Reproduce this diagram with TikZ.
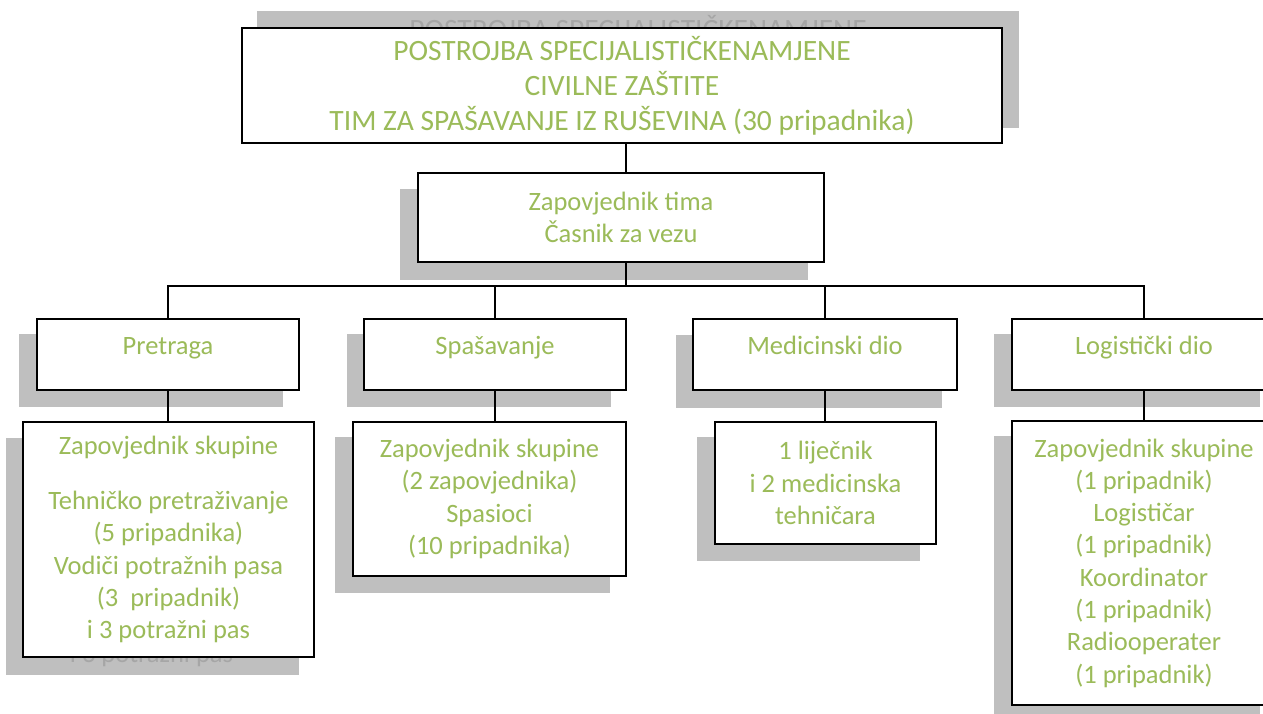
\documentclass[tikz,border=0pt]{standalone}
\usepackage{fontspec}
\setmainfont{Carlito}
\usepackage{tikz}
\usetikzlibrary{calc,positioning}
\pgfdeclarelayer{background}
\pgfsetlayers{background,main}
\definecolor{txtgreen}{HTML}{9BBB59}
\definecolor{shadowgray}{HTML}{BFBFBF}
\definecolor{ghostgray}{HTML}{A6A6A6}
\newcommand{\unitfont}{\fontsize{26.5}{32.3}\selectfont}
\newcommand{\headfont}{\fontsize{29.5}{35}\selectfont}
\newcommand{\boxshadow}[3]{\fill[shadowgray] ($(#1.south west)+(#2,#3)$) rectangle ($(#1.north east)+(#2,#3)$);}

\begin{document}
\begin{tikzpicture}[x=1pt,y=-1pt,
  unitbox/.style={draw=black,line width=1.6pt,fill=white,align=center,inner sep=0pt,text=txtgreen,font=\unitfont},
  deptbox/.style={unitbox,minimum height=71pt,text height=18pt,text depth=18pt},
  ghost/.style={anchor=base,inner sep=0pt,text=ghostgray},
  link/.style={draw=black,line width=1.4pt}]
\useasboundingbox (0,0) rectangle (1263,713);

% top levels
\node (top) at (622,85.5) [unitbox,font=\headfont,minimum width=760pt,minimum height=115pt]
  {POSTROJBA SPECIJALISTIČKENAMJENE\\CIVILNE ZAŠTITE\\TIM ZA SPAŠAVANJE IZ RUŠEVINA (30 pripadnika)};
\node (tim) at (621,217.5) [unitbox,minimum width=406pt,minimum height=89pt] {Zapovjednik tima\\Časnik za vezu};

% departments
\node (pre) at (168,354.5) [deptbox,minimum width=262pt] {Pretraga};
\node (spa) at (495,354.5) [deptbox,minimum width=262pt] {Spašavanje};
\node (med) at (825,354.5) [deptbox,minimum width=264pt] {Medicinski dio};
\node (log) at (1144,354.5) [deptbox,minimum width=264pt] {Logistički dio};

% members
\node (predet) at (168.5,539.5) [unitbox,minimum width=291pt,minimum height=235pt]
  {Zapovjednik skupine\\[22.7pt]Tehničko pretraživanje\\(5 pripadnika)\\Vodiči potražnih pasa\\(3~~pripadnik)\\i 3 potražni pas};
\node (spadet) at (489.5,499) [unitbox,minimum width=273pt,minimum height=154pt]
  {Zapovjednik skupine\\(2 zapovjednika)\\Spasioci\\(10 pripadnika)};
\node (meddet) at (825.5,483) [unitbox,minimum width=221pt,minimum height=122pt]
  {1 liječnik\\i 2 medicinska\\tehničara};
\node (logdet) at (1144,563) [unitbox,minimum width=264pt,minimum height=284pt]
  {Zapovjednik skupine\\(1 pripadnik)\\Logističar\\(1 pripadnik)\\Koordinator\\(1 pripadnik)\\Radiooperater\\(1 pripadnik)};

% shadows
\begin{pgfonlayer}{background}
\boxshadow{top}{16}{-16}
\boxshadow{tim}{-17}{17}
\boxshadow{pre}{-17}{16}
\boxshadow{spa}{-16}{16}
\boxshadow{med}{-16}{17}
\boxshadow{log}{-17}{16}
\boxshadow{predet}{-16}{17}
\boxshadow{spadet}{-17}{16}
\boxshadow{meddet}{-17}{16}
\boxshadow{logdet}{-17}{16}
\node (ghtop) at (638,39.7) [ghost,font=\headfont] {POSTROJBA SPECIJALISTIČKENAMJENE};
\node (ghpre) at (151.5,662) [ghost,font=\unitfont] {i 3 potražni pas};
\end{pgfonlayer}

% lines
\coordinate (trunk) at (626,286);
\draw[link] (top.south -| trunk) -- (tim.north -| trunk);
\draw[link] (tim.south -| trunk) -- (trunk);
\draw[link] (pre.north) |- (trunk) -| (log.north);
\draw[link] (spa.north) -- (spa.north |- trunk);
\draw[link] (med.north) -- (med.north |- trunk);
\draw[link] (pre.south) -- (pre.south |- predet.north);
\draw[link] (spa.south) -- (spa.south |- spadet.north);
\draw[link] (med.south) -- (med.south |- meddet.north);
\draw[link] (log.south) -- (log.south |- logdet.north);
\end{tikzpicture}
\end{document}
